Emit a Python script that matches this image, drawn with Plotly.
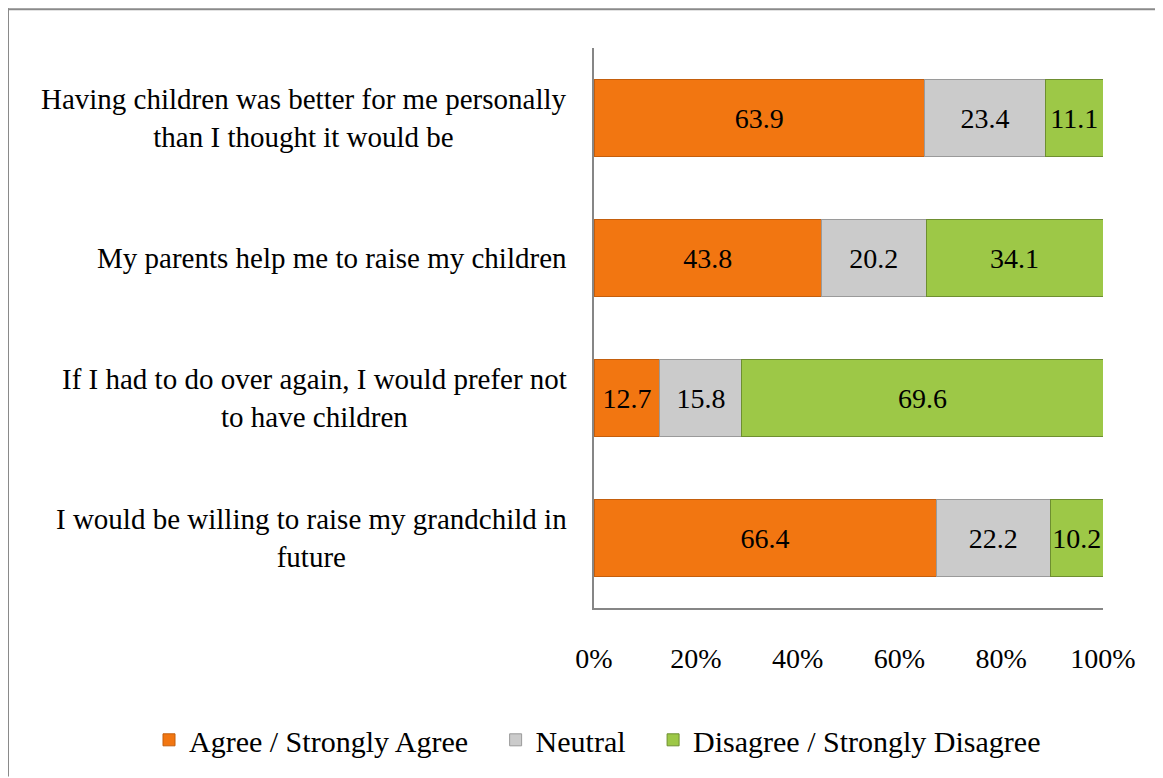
import plotly.graph_objects as go

categories = [
    "Having children was better for me personally<br>than I thought it would be",
    "My parents help me to raise my children",
    "If I had to do over again, I would prefer not<br>to have children",
    "I would be willing to raise my grandchild in<br>future",
]
agree = [63.9, 43.8, 12.7, 66.4]
neutral = [23.4, 20.2, 15.8, 22.2]
disagree = [11.1, 34.1, 69.6, 10.2]
series_names = ["Agree / Strongly Agree", "Neutral", "Disagree / Strongly Disagree"]
tick_vals = [0, 20, 40, 60, 80, 100]
tick_text = ["0%", "20%", "40%", "60%", "80%", "100%"]
colors = ["#F27611", "#CBCBCB", "#9DC847"]
edge_colors = ["#C45E0C", "#9A9A9A", "#6E8F30"]

FONT = "Times New Roman, Liberation Serif, serif"
FS = 28
FS_CAT = 29
FS_LEG = 30
NBSP = "\u00a0"

# figure is offset by the page's 8px body margin
W, H = 1155, 770
L, T, R, B = 586, 40, 60, 165
PW, PH = W - L - R, H - T - B


def px_x(fx):
    return (fx - L) / PW


def px_y(fy):
    return (T + PH - fy) / PH


fig = go.Figure()
for i, (name, vals, c, ec) in enumerate(zip(series_names, [agree, neutral, disagree], colors, edge_colors)):
    legend_name = name + (NBSP * 3 if i < len(series_names) - 1 else "")
    fig.add_trace(go.Bar(
        y=categories, x=vals, name=legend_name, orientation="h",
        marker=dict(color=c, line=dict(color=ec, width=1)),
        text=[f"{v:.1f}" for v in vals], textposition="inside",
        insidetextanchor="middle", textangle=0, constraintext="none",
        textfont=dict(family=FONT, size=FS, color="black"),
        hovertemplate=name + ": %{text}<extra></extra>",
    ))

# category labels: right-aligned block, lines centred within it
for cat in categories:
    fig.add_annotation(
        xref="paper", yref="y", x=0, y=cat, xanchor="right", xshift=-25,
        text=cat, showarrow=False, align="center",
        font=dict(family=FONT, size=FS_CAT, color="black"),
    )

fig.update_layout(
    barmode="stack", barnorm="percent", bargap=0.447,
    width=W, height=H,
    margin=dict(l=L, r=R, t=T, b=B),
    paper_bgcolor="white", plot_bgcolor="white",
    font=dict(family=FONT, size=FS, color="black"),
    legend=dict(orientation="h", xref="paper", yref="paper",
                x=px_x(141), xanchor="left", y=px_y(738), yanchor="middle",
                font=dict(family=FONT, size=FS_LEG, color="black"),
                itemwidth=30, traceorder="normal", tracegroupgap=0),
    xaxis=dict(range=[0, 100], tickvals=tick_vals, ticktext=tick_text,
               showgrid=False, zeroline=False, showline=True,
               linecolor="#868686", linewidth=2,
               ticks="", ticklabelstandoff=24,
               tickfont=dict(family=FONT, size=FS, color="black")),
    yaxis=dict(autorange="reversed", showgrid=False, zeroline=False,
               showline=True, linecolor="#868686", linewidth=2,
               ticks="", showticklabels=False),
    shapes=[
        dict(type="line", xref="paper", yref="paper",
             x0=px_x(0), x1=px_x(W + 5), y0=px_y(1), y1=px_y(1),
             line=dict(color="#8A8A8A", width=2)),
        dict(type="line", xref="paper", yref="paper",
             x0=px_x(0), x1=px_x(0), y0=px_y(0), y1=px_y(H + 5),
             line=dict(color="#8A8A8A", width=2)),
    ],
)

fig.write_html("out.html")
